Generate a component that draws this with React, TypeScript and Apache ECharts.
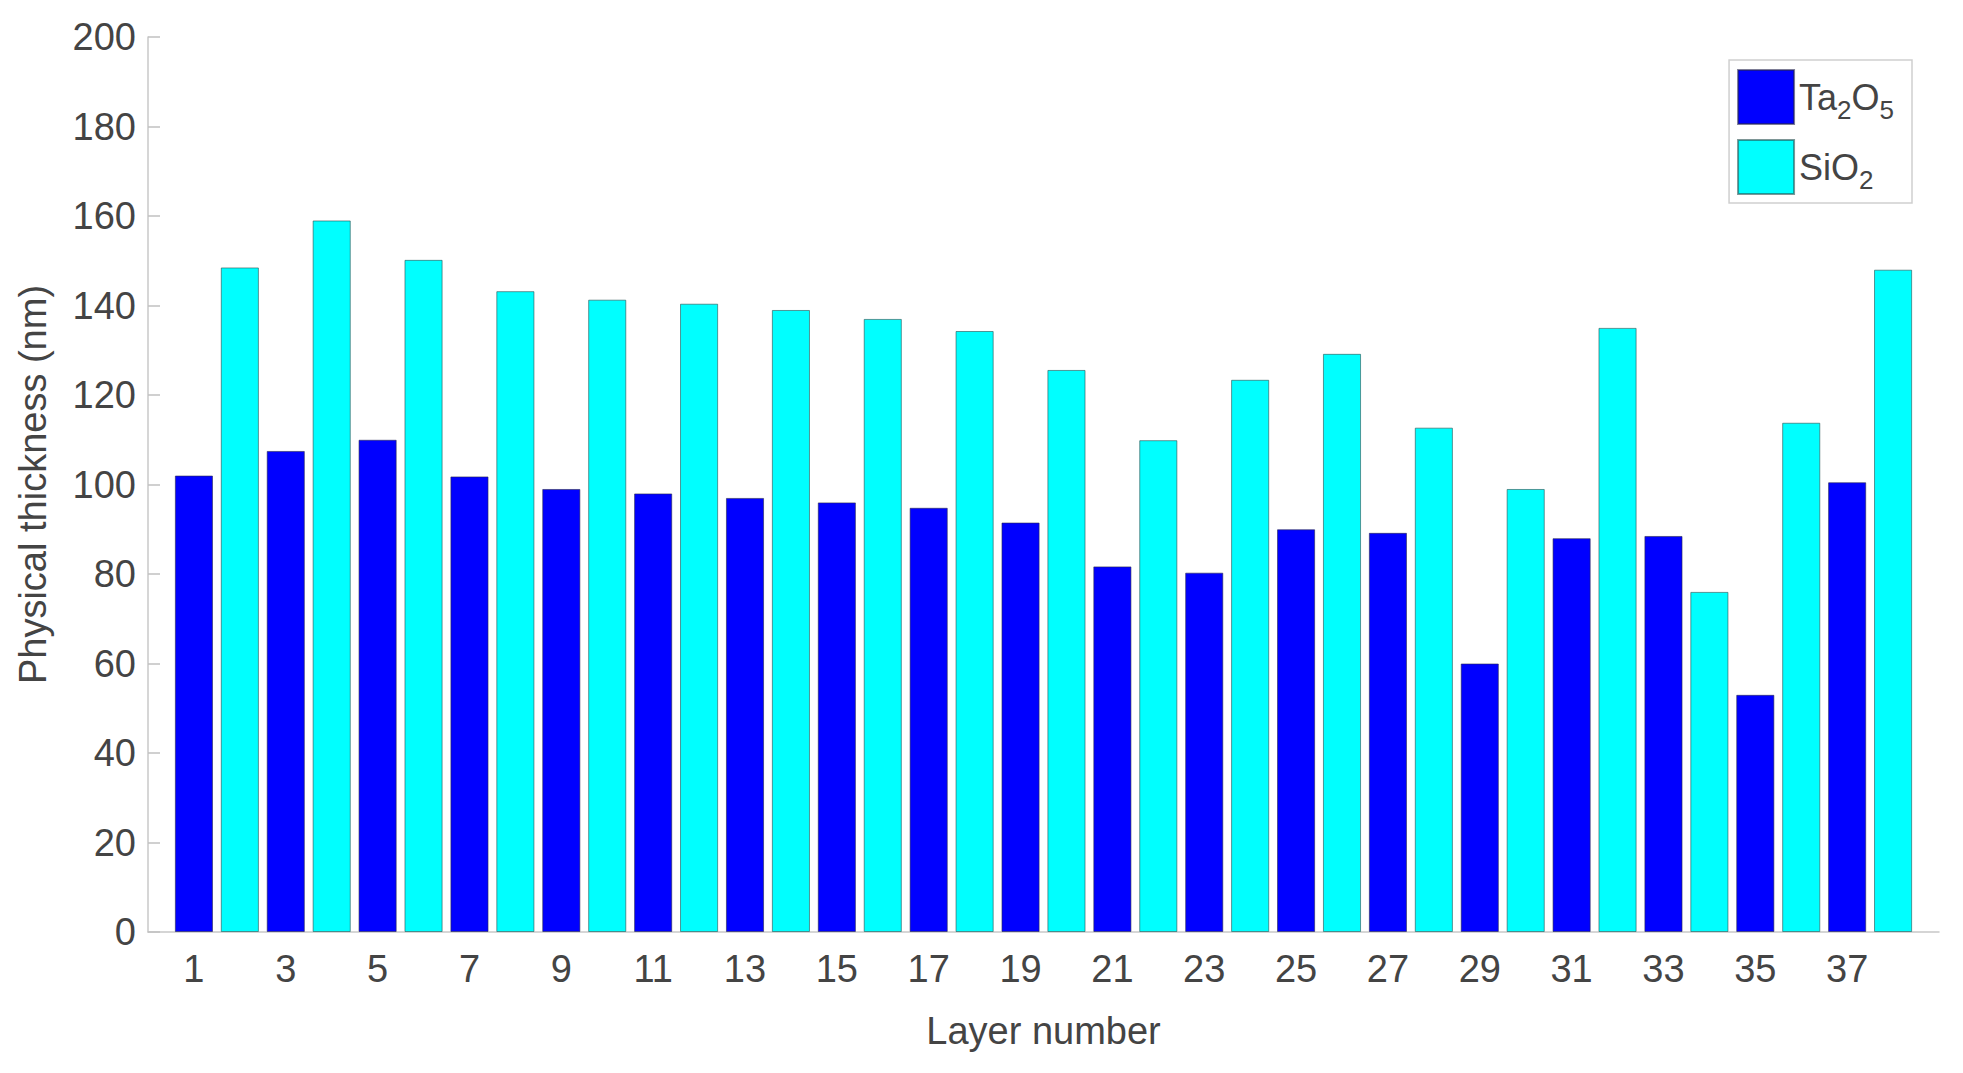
import React, { useEffect, useRef } from "react";
import * as echarts from "echarts";

// Axis categories: layer positions 0..39 (0 and 39 are empty margins, as in the original xlim)
const layerCategories = [
  "0", "1", "2", "3", "4", "5", "6", "7", "8", "9",
  "10", "11", "12", "13", "14", "15", "16", "17", "18", "19",
  "20", "21", "22", "23", "24", "25", "26", "27", "28", "29",
  "30", "31", "32", "33", "34", "35", "36", "37", "38", "39",
];

// Ta2O5 thickness (nm) for odd layers 1,3,...,37
const ta2o5Thickness = [
  102, 107.5, 110, 101.8, 99, 98, 97, 96, 94.8, 91.5,
  81.7, 80.3, 90, 89.2, 60, 88, 88.5, 53, 100.5,
];

// SiO2 thickness (nm) for even layers 2,4,...,38
const sio2Thickness = [
  148.5, 159, 150.2, 143.2, 141.3, 140.4, 139, 137, 134.3, 125.6,
  109.9, 123.4, 129.2, 112.7, 99, 135, 76, 113.8, 148,
];

const yTicks = { min: 0, max: 200, interval: 20 };

const FONT = "Liberation Sans, Arial, sans-serif";
const TEXT_COLOR = "#444";

export default function App() {
  const ref = useRef<HTMLDivElement>(null);

  useEffect(() => {
    if (!ref.current) return;
    const chart = echarts.init(ref.current, undefined, { renderer: "svg" });

    const taData = layerCategories.map((c) => {
      const n = Number(c);
      return n >= 1 && n <= 38 && n % 2 === 1 ? ta2o5Thickness[(n - 1) / 2] : null;
    });
    const siData = layerCategories.map((c) => {
      const n = Number(c);
      return n >= 1 && n <= 38 && n % 2 === 0 ? sio2Thickness[n / 2 - 1] : null;
    });

    chart.setOption({
      animation: false,
      backgroundColor: "#ffffff",
      textStyle: { fontFamily: FONT },
      grid: { left: 148, right: 24, top: 37, bottom: 141, containLabel: false },
      legend: {
        right: 51,
        top: 60,
        orient: "vertical",
        itemWidth: 56,
        itemHeight: 54,
        itemGap: 14,
        padding: [9, 18, 8, 8],
        borderColor: "#cfcfcf",
        borderWidth: 1.5,
        backgroundColor: "#fff",
        icon: "rect",
        data: ["Ta2O5", "SiO2"],
        formatter: (name: string) =>
          name === "Ta2O5" ? "{n|Ta}{s|2}{n|O}{s|5}" : "{n|SiO}{s|2}",
        textStyle: {
          color: TEXT_COLOR,
          fontFamily: FONT,
          padding: 0,
          rich: {
            n: { fontSize: 36, color: TEXT_COLOR, fontFamily: FONT },
            s: {
              fontSize: 26,
              color: TEXT_COLOR,
              fontFamily: FONT,
              padding: [26, 0, 0, 0],
            },
          },
        },
      },
      xAxis: {
        type: "category",
        data: layerCategories,
        boundaryGap: false,
        name: "Layer number",
        nameLocation: "middle",
        nameGap: 80,
        nameTextStyle: { fontSize: 38, color: TEXT_COLOR, fontFamily: FONT },
        axisLine: { lineStyle: { color: "#c8c8c8", width: 1.5 } },
        axisTick: { show: false },
        axisLabel: {
          interval: (index: number) => index % 2 === 1 && index <= 37,
          fontSize: 38,
          color: TEXT_COLOR,
          margin: 18,
          fontFamily: FONT,
        },
        splitLine: { show: false },
      },
      yAxis: {
        type: "value",
        min: yTicks.min,
        max: yTicks.max,
        interval: yTicks.interval,
        name: "Physical thickness (nm)",
        nameLocation: "middle",
        nameGap: 96,
        nameTextStyle: { fontSize: 38, color: TEXT_COLOR, fontFamily: FONT },
        axisLine: { show: true, lineStyle: { color: "#c8c8c8", width: 1.5 } },
        axisTick: {
          show: true,
          inside: true,
          length: 12,
          lineStyle: { color: "#c0c0c0", width: 1.5 },
        },
        axisLabel: {
          fontSize: 38,
          color: TEXT_COLOR,
          margin: 12,
          fontFamily: FONT,
        },
        splitLine: { show: false },
      },
      series: [
        {
          name: "Ta2O5",
          type: "bar",
          data: taData,
          barWidth: "83%",
          barGap: "-100%",
          itemStyle: {
            color: "#0000ff",
            borderColor: "rgba(40,40,80,0.6)",
            borderWidth: 1,
          },
        },
        {
          name: "SiO2",
          type: "bar",
          data: siData,
          barWidth: "83%",
          barGap: "-100%",
          itemStyle: {
            color: "#00ffff",
            borderColor: "rgba(40,80,80,0.6)",
            borderWidth: 1,
          },
        },
      ],
    });

    return () => chart.dispose();
  }, []);

  return (
    <div
      ref={ref}
      style={{ position: "fixed", left: 0, top: 0, width: 1963, height: 1073 }}
    />
  );
}
